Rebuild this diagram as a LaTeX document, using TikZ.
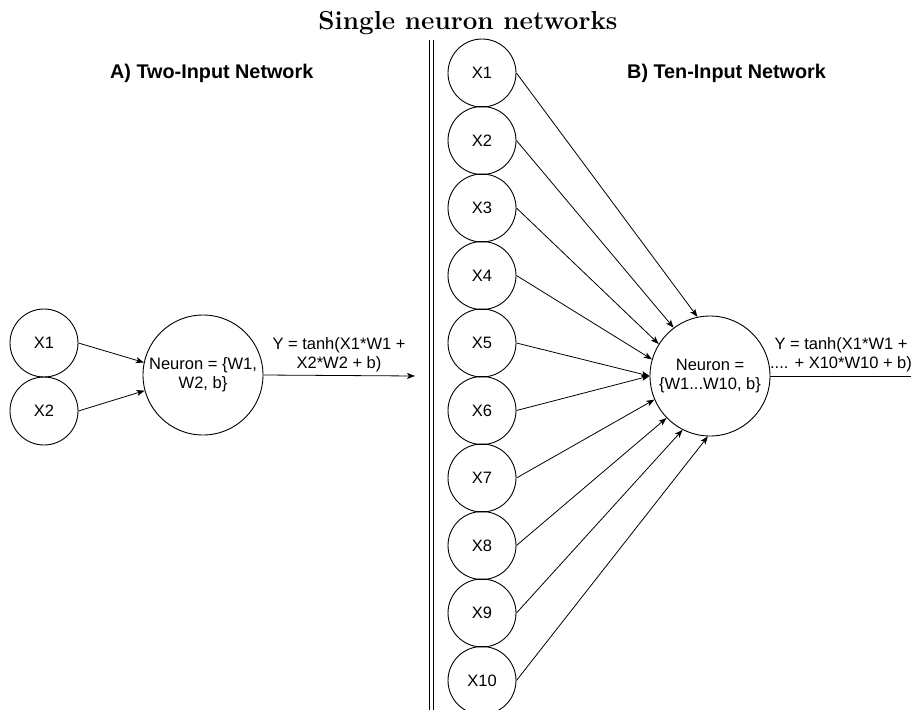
\documentclass[tikz,border=0pt]{standalone}
\usepackage{fontspec}
\setsansfont{Liberation Sans}
\usetikzlibrary{arrows.meta}

\begin{document}
\begin{tikzpicture}[x=1pt,y=-1pt,
  every node/.style={font=\sffamily\fontsize{16.5}{19}\selectfont},
  unit/.style={circle,draw,line width=0.9pt,inner sep=0pt,minimum size=68pt},
  neuron/.style={circle,draw,line width=0.9pt,inner sep=0pt,minimum size=120pt,align=center},
  link/.style={line width=0.8pt,-{Stealth[length=8pt,width=6pt,inset=2pt]}},
  plainlink/.style={line width=0.8pt},
  heading/.style={font=\sffamily\bfseries\fontsize{19.8}{22}\selectfont,anchor=west,inner sep=0pt},
  formula/.style={align=center,inner sep=0pt},
  divider/.style={line width=0.8pt}
]
\useasboundingbox (0,0) rectangle (911,710);
\clip (0,0) rectangle (911,710);

% title
\node[font=\rmfamily\bfseries\fontsize{26}{30}\selectfont] (title) at (468,23) {Single neuron networks};

% separator between the two panels
\coordinate (d1a) at (429.5,40);  \coordinate (d1b) at (429.5,712);
\coordinate (d2a) at (433.5,40);  \coordinate (d2b) at (433.5,712);
\draw[divider] (d1a) -- (d1b);
\draw[divider] (d2a) -- (d2b);

% ---- A) two inputs ----
\node[heading] (ha) at (110,73) {A) Two-Input Network};
\node[unit] (l1) at (44,343) {X1};
\node[unit] (l2) at (44,411) {X2};
\node[neuron] (n1) at (203,375) {Neuron = \{W1,\\W2, b\}};
\draw[link] (l1.east) -- (n1.168);
\draw[link] (l2.east) -- (n1.195);
\coordinate (o1) at (415,376);
\draw[link] (n1.east) -- (o1);
\node[formula] (f1) at (339,355) {Y = tanh(X1*W1 +\\X2*W2 + b)};

% ---- B) ten inputs ----
\node[heading] (hb) at (627,73) {B) Ten-Input Network};
\foreach \i in {1,...,10}
  \node[unit] (r\i) at (482,{73+67.5*(\i-1)}) {X\i};
\node[neuron] (n2) at (710,376) {Neuron =\\\{W1...W10, b\}};
\foreach \i/\a in {1/102,2/127,3/148,4/164,5/180,6/180,7/203,8/224,9/243,10/268}
  \draw[link] (r\i.east) -- (n2.\a);
\coordinate (o2) at (912,376);
\draw[plainlink] (n2.east) -- (o2);
\node[formula] (f2) at (841,355) {Y = tanh(X1*W1 +\\.... + X10*W10 + b)};
\end{tikzpicture}
\end{document}
